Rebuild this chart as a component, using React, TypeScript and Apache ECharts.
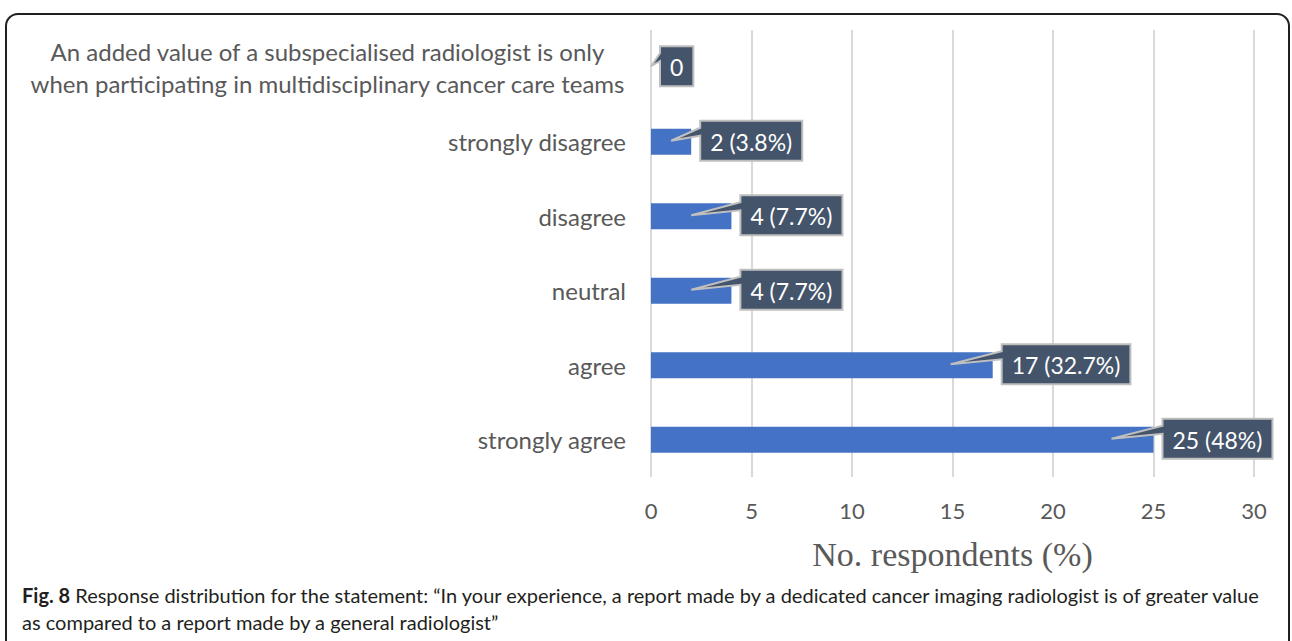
import React, { useEffect, useRef } from "react";
import * as echarts from "echarts";

const categories = [
  "An added value of a subspecialised radiologist is only\nwhen participating in multidisciplinary cancer care teams",
  "strongly disagree",
  "disagree",
  "neutral",
  "agree",
  "strongly agree",
];
const counts = [0, 2, 4, 4, 17, 25];
const percents: (number | null)[] = [null, 3.8, 7.7, 7.7, 32.7, 48];
const xTicks = { min: 0, max: 30, interval: 5 };
const axisTitle = "No. respondents (%)";
const captionBold = "Fig. 8";
const captionLine1 =
  " Response distribution for the statement: \u201cIn your experience, a report made by a dedicated cancer imaging radiologist is of greater value";
const captionLine2 = "as compared to a report made by a general radiologist\u201d";

const SANS = "Lato";
const CAT_SIZE = 24;
const TICK_SIZE = 22;
const LABEL_SIZE = 23;

function measure(text: string, font: string): number {
  const c = document.createElement("canvas");
  const ctx = c.getContext("2d")!;
  ctx.font = font;
  return ctx.measureText(text).width;
}

export default function App() {
  const ref = useRef<HTMLDivElement>(null);
  useEffect(() => {
    document.body.style.margin = "0";
    if (!ref.current) return;
    const chart = echarts.init(ref.current, null, { renderer: "svg" });

    const labels = counts.map((c, i) =>
      percents[i] == null ? `${c}` : `${c} (${percents[i]}%)`
    );
    const font = `${LABEL_SIZE}px ${SANS}`;
    const widths = labels.map((t) => measure(t, font));
    const catLines = categories[0].split("\n");
    const catW =
      Math.max(...catLines.map((l) => measure(l, `${CAT_SIZE}px ${SANS}`))) + 2;

    const option: any = {
      animation: false,
      backgroundColor: "#ffffff",
      grid: { left: 651, right: 38, top: 30, bottom: 164, containLabel: false },
      xAxis: {
        type: "value",
        min: xTicks.min,
        max: xTicks.max,
        interval: xTicks.interval,
        axisLine: { show: false },
        axisTick: { show: false },
        splitLine: { lineStyle: { color: "#D9D9D9", width: 2 } },
        axisLabel: {
          color: "#595959",
          fontFamily: SANS,
          fontSize: TICK_SIZE,
          margin: 22,
        },
        name: axisTitle,
        nameLocation: "middle",
        nameGap: 60,
        nameTextStyle: {
          fontFamily: "Liberation Serif",
          fontSize: 34,
          color: "#595959",
        },
      },
      yAxis: {
        type: "category",
        inverse: true,
        data: categories,
        axisLine: { show: false },
        axisTick: { show: false },
        axisLabel: {
          color: "#595959",
          fontFamily: SANS,
          fontSize: CAT_SIZE,
          margin: 25,
          formatter: (v: string) =>
            v.indexOf("\n") >= 0
              ? v
                  .split("\n")
                  .map((l) => `{c|${l}}`)
                  .join("\n")
              : v,
          rich: {
            c: {
              width: catW,
              align: "center",
              lineHeight: 32,
              fontFamily: SANS,
              fontSize: CAT_SIZE,
              color: "#595959",
            },
          },
        },
      },
      series: [
        {
          type: "bar",
          data: counts,
          barWidth: 26,
          itemStyle: { color: "#4472C4" },
          z: 2,
        },
        {
          type: "custom",
          z: 5,
          data: counts.map((c, i) => [c, i]),
          encode: { x: 0, y: 1 },
          renderItem: (params: any, api: any) => {
            const v = api.value(0);
            const i = api.value(1);
            const end = api.coord([v, i]);
            const start = api.coord([0, i]);
            const len = end[0] - start[0];
            const cy = end[1] - 1;
            const L = end[0] + 9;
            const W = widths[i] + 20;
            const R = L + W;
            const T = cy - 20;
            const B = cy + 20;
            const tip = [end[0] - Math.min(42, len * 0.5), cy];
            return {
              type: "group",
              children: [
                {
                  type: "polygon",
                  shape: {
                    points: [
                      [L, T],
                      [R, T],
                      [R, B],
                      [L, B],
                      [L, T + 15],
                      tip,
                      [L, T + 7],
                    ],
                  },
                  style: { fill: "#44546A", stroke: "#BFBFBF", lineWidth: 2 },
                },
                {
                  type: "text",
                  style: {
                    text: labels[i],
                    x: L + W / 2,
                    y: cy + 1,
                    align: "center",
                    verticalAlign: "middle",
                    fill: "#ffffff",
                    fontFamily: SANS,
                    fontSize: LABEL_SIZE,
                  },
                },
              ],
            };
          },
        },
      ],
      graphic: [
        {
          type: "rect",
          shape: { x: 6, y: 14, width: 1283, height: 700, r: 12 },
          style: { fill: "none", stroke: "#231F20", lineWidth: 2 },
          silent: true,
        },
        {
          type: "text",
          left: 22,
          top: 585,
          style: {
            text: `{b|${captionBold}}{n|${captionLine1}}\n{n|${captionLine2}}`,
            rich: {
              b: {
                fontFamily: SANS,
                fontSize: 20,
                fontWeight: "bold",
                fill: "#231F20",
                lineHeight: 27,
              },
              n: {
                fontFamily: SANS,
                fontSize: 20,
                fill: "#231F20",
                lineHeight: 27,
              },
            },
          },
        },
      ],
    };
    chart.setOption(option);
    return () => chart.dispose();
  }, []);
  return <div ref={ref} style={{ width: 1292, height: 641 }} />;
}
